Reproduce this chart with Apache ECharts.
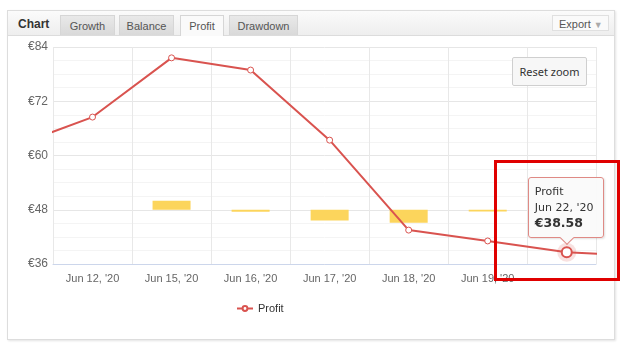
<!DOCTYPE html>
<html>
<head>
<meta charset="utf-8">
<script src="https://cdn.jsdelivr.net/npm/echarts@6/dist/echarts.min.js"></script>
<style>
body{margin:0;background:#fff;font-family:"Liberation Sans",Arial,sans-serif;}
#frame{position:absolute;left:7px;top:10px;width:606px;height:328px;border:1px solid #ddd;box-shadow:1px 1px 2px #e4e4e4;background:#fff;}
#head{position:absolute;left:0;top:0;right:0;height:24px;border-bottom:1px solid #dcdcdc;background:linear-gradient(#fbfbfb,#eeeeee);}
#head .ttl{position:absolute;left:10px;top:6px;font-weight:bold;font-size:12px;color:#333;}
.tab{position:absolute;top:4px;height:20px;line-height:21px;text-align:center;font-size:11px;color:#555;border:1px solid #d6d6d6;border-bottom:none;background:linear-gradient(#e9e9e9,#d9d9d9);box-sizing:border-box;}
.tab.on{background:#fafafa;height:21px;}
#export{position:absolute;left:544px;top:4px;width:57px;height:16px;border:1px solid #e0e0e0;background:#fafafa;font-size:11px;color:#555;line-height:16px;box-sizing:border-box;padding-left:6px;}
#export span{color:#aaa;font-size:9px;margin-left:3px;}
#chart{position:absolute;left:0;top:0;width:624px;height:351px;}
#reset{position:absolute;left:512px;top:57px;width:75px;height:29px;border:1px solid #cfcfcf;border-radius:2px;background:#f7f7f7;font-family:"Noto Sans";font-size:11px;color:#333;line-height:28px;text-align:center;box-sizing:border-box;}
#tip{position:absolute;width:76px;height:61px;box-sizing:border-box;border:1px solid #df8a85;border-radius:3px;background:rgba(250,250,250,0.96);font-family:"DejaVu Sans";font-size:11px;color:#333;padding:6px 0 0 6px;line-height:15.5px;box-shadow:1px 1px 2px rgba(0,0,0,0.12);}
#tip b{font-size:12.5px;}
#tip:after{content:"";position:absolute;left:33px;bottom:-6px;width:9px;height:9px;background:#fafafa;border-right:1px solid #df8a85;border-bottom:1px solid #df8a85;transform:rotate(45deg);}
#mark{position:absolute;left:494px;top:160px;width:120px;height:115px;border:3px solid #e00000;}
</style>
</head>
<body>
<div id="frame">
  <div id="head">
    <div class="ttl">Chart</div>
    <div class="tab" style="left:52px;width:55px;">Growth</div>
    <div class="tab" style="left:111px;width:55px;">Balance</div>
    <div class="tab on" style="left:172px;width:44px;">Profit</div>
    <div class="tab" style="left:221px;width:69px;">Drawdown</div>
    <div id="export">Export<span>&#9660;</span></div>
  </div>
</div>
<div id="chart"></div>
<div id="reset">Reset zoom</div>
<div id="tip">Profit<br>Jun 22, '20<br><b id="tipval"></b></div>
<div id="mark"></div>
<script>
// categories (first and last are just outside the zoomed window)
var dates = ["Jun 11, '20", "Jun 12, '20", "Jun 15, '20", "Jun 16, '20", "Jun 17, '20", "Jun 18, '20", "Jun 19, '20", "Jun 22, '20", "Jun 23, '20"];
var profit = [62.0, 68.5, 81.6, 78.9, 63.4, 43.5, 41.1, 38.58, 37.8];
var daily = [null, 0, 2.0, -0.45, -2.4, -2.9, -0.4, null, null];
var shownLabels = ["Jun 12, '20", "Jun 15, '20", "Jun 16, '20", "Jun 17, '20", "Jun 18, '20", "Jun 19, '20"];
var yTicks = [36, 48, 60, 72, 84];
var hoverIdx = 7;

var pos = function(i){ return i + 0.5; };   // centre of category band i
var myChart = echarts.init(document.getElementById('chart'));

var option = {
    animation: false,
    textStyle: {fontFamily: 'Liberation Sans'},
    grid: {left: 53, right: 28, top: 47, bottom: 87},
    legend: {
        data: ['Profit'], left: 231, top: 298,
        itemWidth: 16, itemHeight: 6, itemGap: 5,
        textStyle: {color: '#333', fontSize: 11}
    },
    xAxis: {
        type: 'value', min: 1, max: 7.87, interval: 1,
        axisLine: {show: true, onZero: false, lineStyle: {color: '#ccd6eb'}},
        axisTick: {show: false},
        splitLine: {show: true, lineStyle: {color: '#e8e8e8'}},
        axisLabel: {
            customValues: shownLabels.map(function(d){ return pos(dates.indexOf(d)); }),
            formatter: function(v){ return dates[Math.round(v - 0.5)]; },
            color: '#666', fontSize: 11, margin: 9
        }
    },
    yAxis: [
        {
            type: 'value', min: yTicks[0], max: yTicks[yTicks.length - 1], interval: 12,
            axisLine: {show: false},
            axisTick: {show: false},
            axisLabel: {formatter: function(v){ return '\u20ac' + v; }, color: '#666', fontSize: 12, margin: 5},
            splitLine: {lineStyle: {color: '#e6e6e6'}},
            minorTick: {show: false, splitNumber: 4},
            minorSplitLine: {show: true, lineStyle: {color: '#f4f4f4'}}
        },
        {type: 'value', min: -12, max: 36, show: false, splitLine: {show: false}}
    ],
    series: [
        {
            name: 'Daily', type: 'bar', yAxisIndex: 1, barWidth: 38,
            itemStyle: {color: '#fcd55c'},
            data: daily.map(function(v, i){ return [pos(i), v]; })
        },
        {
            name: 'halo', type: 'scatter', silent: true, symbolSize: 19,
            itemStyle: {color: 'rgba(217,83,79,0.22)'},
            data: [[pos(hoverIdx), profit[hoverIdx]]]
        },
        {
            name: 'Profit', type: 'line', color: '#d9534f',
            symbol: 'circle', symbolSize: 6, showAllSymbol: true,
            lineStyle: {width: 2, color: '#d9534f'},
            itemStyle: {color: '#fff', borderColor: '#d9534f', borderWidth: 1},
            data: profit.map(function(v, i){
                if (i === hoverIdx) return {value: [pos(i), v], symbolSize: 10, itemStyle: {borderWidth: 2}};
                return [pos(i), v];
            })
        }
    ]
};
myChart.setOption(option);

// hover label anchored to the highlighted point
var p = myChart.convertToPixel({seriesIndex: 2}, [pos(hoverIdx), profit[hoverIdx]]);
var tip = document.getElementById('tip');
document.getElementById('tipval').textContent = '\u20ac' + profit[hoverIdx].toFixed(2);
tip.style.left = (p[0] - 39) + 'px';
tip.style.top = (p[1] - 75) + 'px';
</script>
</body>
</html>
